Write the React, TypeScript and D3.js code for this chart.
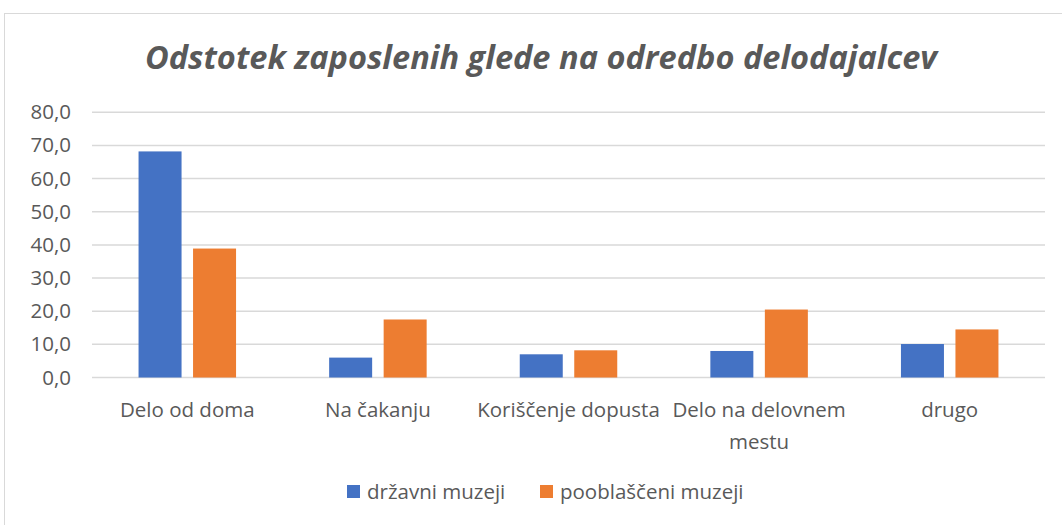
import React from "react";
import * as d3 from "d3";

const categories = ["Delo od doma", "Na čakanju", "Koriščenje dopusta", "Delo na delovnem mestu", "drugo"];
const categoryLines = [["Delo od doma"], ["Na čakanju"], ["Koriščenje dopusta"], ["Delo na delovnem", "mestu"], ["drugo"]];
const seriesNames = ["državni muzeji", "pooblaščeni muzeji"];
const drzavni = [68.2, 6.0, 7.0, 8.0, 10.1];
const pooblasceni = [38.9, 17.5, 8.2, 20.5, 14.5];
const yTicks = [0, 10, 20, 30, 40, 50, 60, 70, 80];
const colors = ["#4472C4", "#ED7D31"];

export default function App() {
  const W = 1062, H = 525;
  const left = 92, right = 1045, top = 112.3, bottom = 377.5;
  const x = d3.scaleBand<string>().domain(categories).range([left, right]);
  const y = d3.scaleLinear().domain([0, 80]).range([bottom, top]);
  const bw = 43, gap = 11.5;
  const series = [drzavni, pooblasceni];
  const font = "'Open Sans', 'DejaVu Sans', sans-serif";
  const fs = 20.5;
  const fmt = (v: number) => v.toFixed(1).replace(".", ",");
  return (
    <svg width={W} height={H} style={{ position: "absolute", left: 0, top: 0, background: "#fff" }}>
      <rect x={4.5} y={13.5} width={1070} height={530} fill="#fff" stroke="#d9d9d9" strokeWidth={1} />
      <text x={541} y={69} textAnchor="middle" fontFamily={font} fontStyle="italic" fontWeight={700} fontSize={32} fill="#595959" textLength={792} lengthAdjust="spacingAndGlyphs">
        Odstotek zaposlenih glede na odredbo delodajalcev
      </text>
      {yTicks.map((t) => (
        <g key={t}>
          <line x1={left} x2={right} y1={y(t)} y2={y(t)} stroke="#d9d9d9" strokeWidth={1.5} />
          <text x={71} y={y(t) + 7} textAnchor="end" fontFamily={font} fontSize={20.5} fill="#595959">{fmt(t)}</text>
        </g>
      ))}
      {categories.map((c, i) => {
        const cx = x(c)! + x.bandwidth() / 2;
        return (
          <g key={c}>
            {series.map((s, j) => {
              const bx = j === 0 ? cx - gap / 2 - bw : cx + gap / 2;
              return <rect key={j} x={bx} y={y(s[i])} width={bw} height={bottom - y(s[i])} fill={colors[j]} />;
            })}
            {categoryLines[i].map((ln, k) => (
              <text key={k} x={cx} y={417 + k * 31.5} textAnchor="middle" fontFamily={font} fontSize={fs} fill="#595959">{ln}</text>
            ))}
          </g>
        );
      })}
      {seriesNames.map((n, j) => {
        const lx = j === 0 ? 347 : 540;
        return (
          <g key={n}>
            <rect x={lx} y={485} width={13} height={13} fill={colors[j]} />
            <text x={lx + 20} y={499} fontFamily={font} fontSize={fs} fill="#595959">{n}</text>
          </g>
        );
      })}
    </svg>
  );
}
